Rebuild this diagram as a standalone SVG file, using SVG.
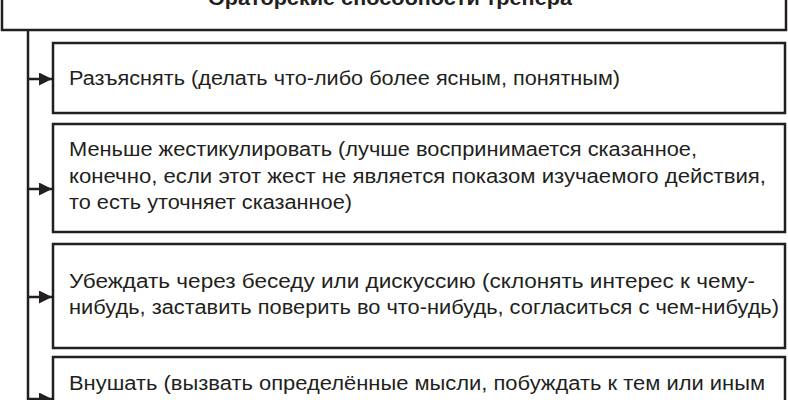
<svg xmlns="http://www.w3.org/2000/svg" width="788" height="400" viewBox="0 0 788 400">
<style>
.box{fill:#ffffff;stroke:#231f20;stroke-width:2.5}
.t{font-family:"Liberation Sans",Arial,sans-serif;font-size:20px;fill:#231f20}
.title{font-family:"Liberation Sans",Arial,sans-serif;font-size:20px;font-weight:bold;fill:#231f20}
.con{fill:none;stroke:#231f20;stroke-width:2.5}
</style>
<defs>
<marker id="ah" markerUnits="userSpaceOnUse" markerWidth="13" markerHeight="13" refX="13" refY="6.5" orient="auto">
<path d="M0,0 L13,6.5 L0,13 z" fill="#231f20"/>
</marker>
</defs>
<rect width="788" height="400" fill="#ffffff"/>
<g id="node-root">
<rect class="box" x="2" y="-40" width="784" height="70"/>
<text class="title" x="208" y="5" textLength="364" lengthAdjust="spacingAndGlyphs">Ораторские способности тренера</text>
</g>
<g id="connectors">
<path class="con" d="M28,30 V402"/>
<path class="con" d="M28,79 H52" marker-end="url(#ah)"/>
<path class="con" d="M28,189 H52" marker-end="url(#ah)"/>
<path class="con" d="M28,297 H52" marker-end="url(#ah)"/>
<path class="con" d="M28,399 H52" marker-end="url(#ah)"/>
</g>
<g id="node-1">
<rect class="box" x="53" y="43" width="732" height="70"/>
<text class="t" x="69" y="85" textLength="551" lengthAdjust="spacingAndGlyphs">Разъяснять (делать что-либо более ясным, понятным)</text>
</g>
<g id="node-2">
<rect class="box" x="53" y="124" width="732" height="108"/>
<text class="t" x="69" y="156" textLength="628" lengthAdjust="spacingAndGlyphs">Меньше жестикулировать (лучше воспринимается сказанное,</text>
<text class="t" x="69" y="183" textLength="697" lengthAdjust="spacingAndGlyphs">конечно, если этот жест не является показом изучаемого действия,</text>
<text class="t" x="69" y="209" textLength="283" lengthAdjust="spacingAndGlyphs">то есть уточняет сказанное)</text>
</g>
<g id="node-3">
<rect class="box" x="53" y="244" width="732" height="104"/>
<text class="t" x="69" y="288" textLength="686" lengthAdjust="spacingAndGlyphs">Убеждать через беседу или дискуссию (склонять интерес к чему-</text>
<text class="t" x="69" y="314" textLength="710" lengthAdjust="spacingAndGlyphs">нибудь, заставить поверить во что-нибудь, согласиться с чем-нибудь)</text>
</g>
<g id="node-4">
<rect class="box" x="53" y="357" width="732" height="110"/>
<text class="t" x="69" y="390" textLength="696" lengthAdjust="spacingAndGlyphs">Внушать (вызвать определённые мысли, побуждать к тем или иным</text>
</g>
</svg>
